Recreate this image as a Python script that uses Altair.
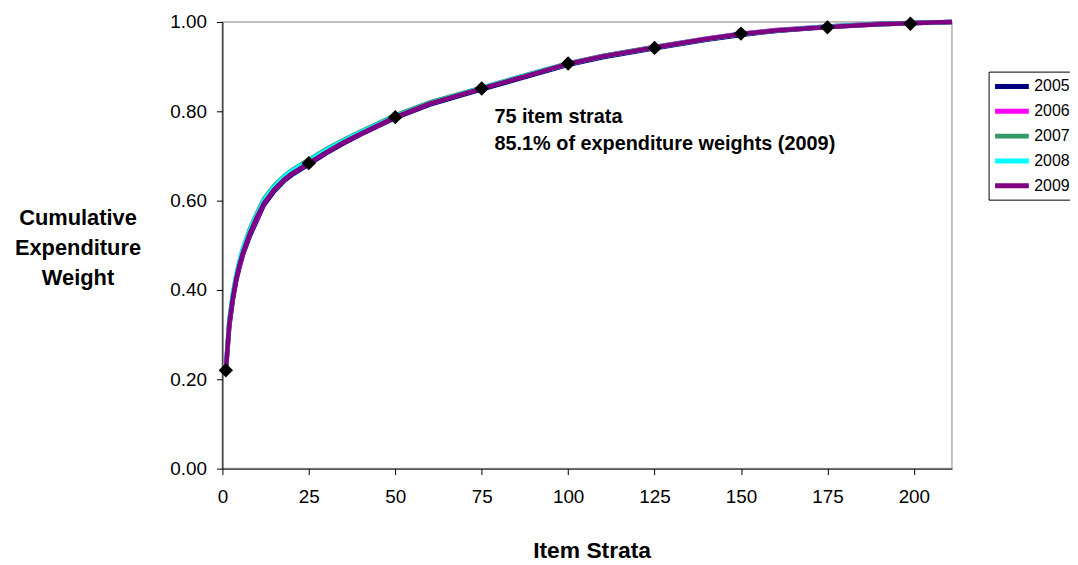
import altair as alt
import pandas as pd

# ---- data ----
strata = [1, 2, 3, 4, 5, 6, 8, 10, 12, 15, 18, 20, 25, 30, 35, 40, 50, 60, 75,
          90, 100, 110, 125, 140, 150, 160, 175, 190, 199, 205, 211]
w2005 = [0.216, 0.318, 0.376, 0.420, 0.452, 0.480, 0.522, 0.556, 0.590, 0.621, 0.645, 0.657,
         0.681, 0.706, 0.728, 0.748, 0.785, 0.815, 0.849, 0.882, 0.904, 0.921, 0.941, 0.960,
         0.971, 0.980, 0.989, 0.995, 0.997, 0.999, 1.000]
w2006 = [0.219, 0.324, 0.381, 0.424, 0.457, 0.484, 0.527, 0.560, 0.594, 0.625, 0.648, 0.660,
         0.684, 0.708, 0.730, 0.750, 0.787, 0.817, 0.852, 0.885, 0.907, 0.924, 0.944, 0.963,
         0.974, 0.982, 0.990, 0.996, 0.998, 0.999, 1.000]
w2007 = [0.222, 0.330, 0.388, 0.432, 0.466, 0.494, 0.538, 0.572, 0.604, 0.634, 0.656, 0.668,
         0.692, 0.715, 0.736, 0.755, 0.791, 0.820, 0.853, 0.886, 0.907, 0.924, 0.944, 0.962,
         0.973, 0.981, 0.990, 0.996, 0.998, 0.999, 1.000]
w2008 = [0.224, 0.333, 0.390, 0.433, 0.466, 0.493, 0.535, 0.569, 0.601, 0.631, 0.654, 0.666,
         0.690, 0.713, 0.734, 0.753, 0.789, 0.818, 0.852, 0.885, 0.906, 0.923, 0.943, 0.962,
         0.973, 0.981, 0.990, 0.995, 0.997, 0.999, 1.000]
w2009 = [0.220, 0.325, 0.382, 0.425, 0.458, 0.485, 0.528, 0.563, 0.594, 0.625, 0.648, 0.660,
         0.684, 0.708, 0.730, 0.750, 0.787, 0.817, 0.851, 0.884, 0.906, 0.923, 0.943, 0.962,
         0.973, 0.981, 0.989, 0.995, 0.997, 0.999, 1.000]
years = ["2005", "2006", "2007", "2008", "2009"]
series = [w2005, w2006, w2007, w2008, w2009]
colors = ["#000080", "#FF00FF", "#339966", "#00FFFF", "#800080"]

marker_x = [1, 25, 50, 75, 100, 125, 150, 175, 199]
marker_y = [0.220, 0.684, 0.787, 0.851, 0.907, 0.942, 0.974, 0.988, 0.996]

note_x = [78.7, 78.7]
note_y = [0.787, 0.727]
note_text = ["75 item strata", "85.1% of expenditure weights (2009)"]

x_ticks = [0, 25, 50, 75, 100, 125, 150, 175, 200]
y_ticks = [0.0, 0.2, 0.4, 0.6, 0.8, 1.0]

FONT = "Liberation Sans"

rows = []
for yr, vals in zip(years, series):
    for s, v in zip(strata, vals):
        rows.append({"strata": s, "weight": v, "year": yr})
lines_df = pd.DataFrame(rows)
mk_df = pd.DataFrame({"strata": marker_x, "weight": marker_y})
note_df = pd.DataFrame({"strata": note_x, "weight": note_y, "text": note_text})

xscale = alt.Scale(domain=[0, 211], nice=False, zero=False)
yscale = alt.Scale(domain=[0, 1], nice=False)

xaxis = alt.Axis(values=x_ticks, title="Item Strata", titleFontSize=23, titleFontWeight="bold",
                 titleFont=FONT, titleX=372, titleY=83, titleBaseline="middle", titleAlign="center",
                 labelFont=FONT, labelFontSize=19, labelColor="black", labelPadding=13,
                 tickSize=6, tickColor="black", domainColor="black", grid=False, labelFlush=False)
yaxis = alt.Axis(values=y_ticks, format=".2f",
                 title=["Cumulative", "Expenditure", "Weight"], titleAngle=0,
                 titleFontSize=22, titleFontWeight="bold", titleFont=FONT, titleLineHeight=30,
                 titleX=-146, titleY=197, titleAlign="center", titleBaseline="middle",
                 labelFont=FONT, labelFontSize=19, labelColor="black", labelPadding=10,
                 tickSize=6, tickColor="black", domainColor="black", grid=False)

lines = alt.Chart(lines_df).mark_line(strokeWidth=4.5).encode(
    x=alt.X("strata:Q", scale=xscale, axis=xaxis),
    y=alt.Y("weight:Q", scale=yscale, axis=yaxis),
    color=alt.Color("year:N", scale=alt.Scale(domain=years, range=colors),
                    legend=alt.Legend(title=None, orient="none", legendX=772, legendY=50,
                                      symbolType="M-1,0L3,0", symbolStrokeWidth=5,
                                      symbolSize=289, symbolFillColor="transparent",
                                      labelFont=FONT, labelFontSize=16, labelColor="black",
                                      labelOffset=20, rowPadding=4, padding=4,
                                      strokeColor="black", fillColor="white")),
    order=alt.Order("strata:Q"),
)

markers = alt.Chart(mk_df).mark_point(shape="diamond", filled=True, color="black",
                                      size=210, opacity=1).encode(
    x=alt.X("strata:Q", scale=xscale),
    y=alt.Y("weight:Q", scale=yscale),
)

notes = alt.Chart(note_df).mark_text(align="left", baseline="middle", fontSize=20,
                                     fontWeight="bold", font=FONT, color="black").encode(
    x=alt.X("strata:Q", scale=xscale),
    y=alt.Y("weight:Q", scale=yscale),
    text="text:N",
)

chart = alt.layer(lines, markers, notes).properties(
    width=735, height=450,
    autosize=alt.AutoSizeParams(type="none"),
    padding={"left": 216, "top": 12, "right": 119, "bottom": 95},
    background="white",
).configure_view(stroke="#c0c0c0", strokeWidth=2)

chart.save("out.html", embed_options={"renderer": "svg", "actions": False})
